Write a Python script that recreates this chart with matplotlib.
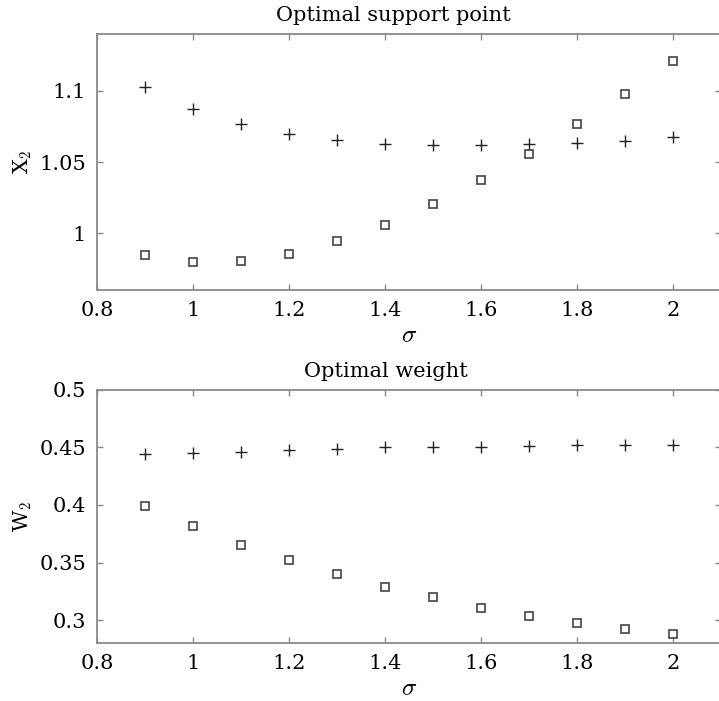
import matplotlib
matplotlib.use("Agg")
import matplotlib.pyplot as plt

plt.rcParams['font.family'] = 'serif'
plt.rcParams['font.serif'] = ['DejaVu Serif', 'Liberation Serif']
plt.rcParams['mathtext.fontset'] = 'cm'
plt.rcParams['font.size'] = 15

# data
sigma = [0.9, 1.0, 1.1, 1.2, 1.3, 1.4, 1.5, 1.6, 1.7, 1.8, 1.9, 2.0]
x2_plus = [1.1028, 1.0873, 1.0765, 1.0699, 1.0657, 1.0629, 1.0617, 1.0617,
           1.0625, 1.0632, 1.0648, 1.0676]
x2_square = [0.9845, 0.9796, 0.9805, 0.9852, 0.9944, 1.0059, 1.0206, 1.0371,
             1.0558, 1.0765, 1.0977, 1.1209]
w2_plus = [0.4445, 0.4453, 0.4462, 0.4474, 0.4485, 0.4500, 0.4505, 0.4505,
           0.4514, 0.4525, 0.4525, 0.4525]
w2_square = [0.3991, 0.3816, 0.3654, 0.3524, 0.3398, 0.3285, 0.3196, 0.3107,
             0.3035, 0.2974, 0.2926, 0.2876]

x_ticks = [0.8, 1, 1.2, 1.4, 1.6, 1.8, 2]
x_ticklabels = ['0.8', '1', '1.2', '1.4', '1.6', '1.8', '2']

fig = plt.figure(figsize=(7.19, 7.01), dpi=100)
ax1 = fig.add_axes([0.135, 0.5863, 0.868, 0.3652])
ax2 = fig.add_axes([0.135, 0.0827, 0.868, 0.361])


def style(ax):
    for s in ax.spines.values():
        s.set_color('#8a8a8a')
        s.set_linewidth(1.3)
    ax.tick_params(direction='in', top=True, right=True, length=4,
                   color='#8a8a8a', width=1, labelsize=15, pad=8)
    ax.set_xlim(0.8, 2.1)
    ax.set_xticks(x_ticks)
    ax.set_xticklabels(x_ticklabels)
    ax.set_xlabel(r'$\sigma$', fontsize=18, labelpad=3)


ax1.plot(sigma, x2_plus, '+', color='#222222', markersize=9, markeredgewidth=1.0)
ax1.plot(sigma, x2_square, 's', markerfacecolor='none', markeredgecolor='#444444',
         markersize=6, markeredgewidth=1.2)
style(ax1)
ax1.set_ylim(0.96, 1.14)
ax1.set_yticks([1, 1.05, 1.1])
ax1.set_yticklabels(['1', '1.05', '1.1'])
ax1.set_ylabel(r'X$_2$', labelpad=4)
ax1.set_title('Optimal support point', fontsize=15, pad=9, x=0.475)

ax2.plot(sigma, w2_plus, '+', color='#222222', markersize=9, markeredgewidth=1.0)
ax2.plot(sigma, w2_square, 's', markerfacecolor='none', markeredgecolor='#444444',
         markersize=6, markeredgewidth=1.2)
style(ax2)
ax2.set_ylim(0.28, 0.5)
ax2.set_yticks([0.3, 0.35, 0.4, 0.45, 0.5])
ax2.set_yticklabels(['0.3', '0.35', '0.4', '0.45', '0.5'])
ax2.set_ylabel(r'W$_2$', labelpad=4)
ax2.set_title('Optimal weight', fontsize=15, pad=9, x=0.463)

fig.savefig('out.png', dpi=100)
